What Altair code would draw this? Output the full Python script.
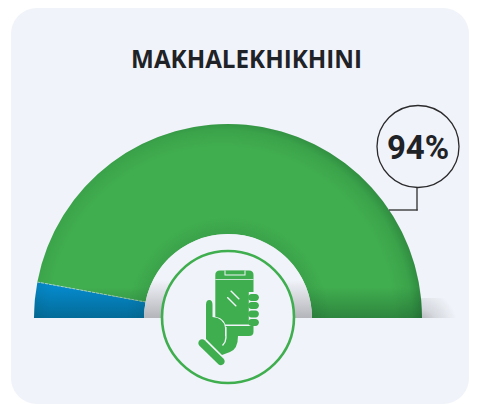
import math
import altair as alt
import pandas as pd

title_text = "MAKHALEKHIKHINI"
label_text = "94%"
categories = ["Blue", "Green"]
starts = [0, 6]
ends = [6, 100]
colors = ["#0589cb", "#40ae4f"]

CARD = "#f0f3f9"
GREEN = "#3fae4e"
CX, CY = 220, 310
R_OUT, R_IN = 194, 84
one = alt.Data(values=[{"a": 1}])
df = pd.DataFrame({"cat": categories, "start": starts, "end": ends})


def px(v):
    return alt.value(v)


def stop(offset, color):
    return alt.GradientStop(offset=offset, color=color)


def radial(stops, cx=0.5, cy=0.5, r=0.5):
    return alt.RadialGradient(gradient="radial", stops=stops, x1=cx, y1=cy, x2=cx, y2=cy, r1=0, r2=r)


def linear(stops, x2=0, y2=1):
    return alt.LinearGradient(gradient="linear", stops=stops, x1=0, y1=0, x2=x2, y2=y2)


def full_circle(r, r2, fill):
    return alt.Chart(one).mark_arc(radius=r, radius2=r2, theta=0, theta2=2 * math.pi, fill=fill).encode(x=px(CX), y=px(CY))


card = alt.Chart(one).mark_rect(fill=CARD, cornerRadius=26).encode(x=px(3), x2=px(461), y=px(0), y2=px(396))

side_shadow = alt.Chart(one).mark_rect(
    fill=radial([stop(0, "rgba(70,70,75,0.5)"), stop(0.5, "rgba(70,70,75,0.16)"), stop(1, "rgba(70,70,75,0)")], cx=0, cy=1, r=1)
).encode(x=px(CX + R_OUT - 4), x2=px(450), y=px(290), y2=px(310))

arcs = alt.Chart(df).mark_arc(radius=R_OUT, radius2=R_IN).encode(
    theta=alt.Theta("start:Q", scale=alt.Scale(domain=[0, 100], range=[-math.pi / 2, math.pi / 2])),
    theta2="end:Q",
    color=alt.Color("cat:N", scale=alt.Scale(domain=categories, range=colors), legend=None),
    x=px(CX),
    y=px(CY),
)

divider = alt.Chart(one).mark_rule(color="#a9d6c2", strokeWidth=1, strokeDash=[3, 1]).encode(
    x=px(29), x2=px(138), y=px(274), y2=px(294)
)

edge_shade = full_circle(R_OUT, 0, radial([
    stop(0, "rgba(0,40,20,0)"), stop(0.86, "rgba(0,40,20,0)"), stop(0.95, "rgba(0,40,20,0.08)"), stop(1, "rgba(0,40,20,0.24)")], cx=0.484, cy=0.505, r=0.515))
hole_shade = full_circle(130, 0, radial([
    stop(0, "rgba(0,30,20,0.08)"), stop(0.646, "rgba(0,30,20,0.08)"), stop(0.78, "rgba(0,30,20,0)"), stop(1, "rgba(0,30,20,0)")]))
base_shade = alt.Chart(one).mark_arc(radius=R_OUT, radius2=R_IN, theta=3 * math.pi / 2, theta2=5 * math.pi / 2, fill=linear([
    stop(0, "rgba(0,30,20,0)"), stop(0.84, "rgba(0,30,20,0)"), stop(1, "rgba(0,30,20,0.28)")])).encode(x=px(CX), y=px(CY))

cover = alt.Chart(one).mark_arc(radius=R_OUT + 2, theta=math.pi / 2, theta2=3 * math.pi / 2, fill=CARD).encode(x=px(CX), y=px(CY))

ring = alt.Chart(one).mark_arc(radius=R_IN, theta=3 * math.pi / 2, theta2=5 * math.pi / 2, fill=linear([
    stop(0, CARD), stop(0.55, CARD), stop(1, "#b4b5bb")])).encode(x=px(CX), y=px(CY))

icon_circle = alt.Chart(one).mark_point(
    shape="circle", size=4 * 66 * 66, filled=True, fill=CARD, stroke=GREEN, strokeWidth=2.6, opacity=1
).encode(x=px(CX), y=px(CY - 1))


def glyph(path, fill):
    # a custom symbol at size 4 is drawn at one pixel per path unit
    return alt.Chart(one).mark_point(shape=path, size=4, filled=True, fill=fill, opacity=1).encode(x=px(CX), y=px(CY))


def pill(x1, y1, x2, y2, w):
    dx, dy = x2 - x1, y2 - y1
    n = math.hypot(dx, dy)
    ox, oy = -dy / n * w / 2, dx / n * w / 2
    r = w / 2
    return (f"M{x1+ox:.1f},{y1+oy:.1f}L{x2+ox:.1f},{y2+oy:.1f}A{r},{r} 0 0 0 {x2-ox:.1f},{y2-oy:.1f}"
            f"L{x1-ox:.1f},{y1-oy:.1f}A{r},{r} 0 0 0 {x1+ox:.1f},{y1+oy:.1f}Z")


phone = "M-8,-47.5L21,-47.5Q25.5,-47.5 25.5,-43L25.5,13.5Q25.5,18 21,18L-8,18Q-12.7,18 -12.7,13.5L-12.7,-43Q-12.7,-47.5 -8,-47.5Z"
palm_fill = "M-22,-13Q-22,-18 -18.7,-18Q-15.5,-18 -15.5,-13L-15.5,-1Q-4,0 -3,10L-3,18L10,18Q10,31 2,34L-6,37L-22,21Z"

icon = [
    glyph(phone, GREEN),
    glyph("M-3.5,-47.5L17.5,-47.5L17.5,-42.5L-3.5,-42.5Z", CARD),
    glyph("M-2.5,-47.5L16.5,-47.5L16.5,-43.5L-2.5,-43.5Z", GREEN),
    glyph("M-12.7,-38.8L25.5,-38.8L25.5,-38L-12.7,-38Z", CARD),
    glyph("M-5,6.5L22,6.5L22,8L-5,8Z", CARD),
    glyph(pill(-0.5, -20.5, 8, -12, 1.5), CARD),
    glyph(pill(3, -27, 11, -19, 1.5), CARD),
    glyph("M20.8,-26L26,-26L26,8L20.8,8Z", CARD),
    glyph(pill(23.5, -20.5, 27.5, -20.5, 6.8), GREEN),
    glyph(pill(23.5, -12.5, 27.5, -12.5, 6.8), GREEN),
    glyph(pill(23.5, -4, 27.5, -4, 6.8), GREEN),
    glyph(pill(23.5, 4.5, 27.5, 4.5, 6.8), GREEN),
    glyph("M-15.5,-1.5Q-3,-1 -2,10L-2,18L-3.5,18L-3.5,10Q-4.5,0.5 -15.5,0Z", CARD),
    glyph(palm_fill, GREEN),
    glyph("M-2.8,9L-1.4,9L-1.4,20Q-1.4,24 -5,28L-6,27Q-2.8,24 -2.8,20Z", CARD),
    glyph("M-27,23L-5,43L-8,46L-30,26Z", CARD),
    glyph(pill(-26, 25, -7, 43.5, 7.5), GREEN),
]

title = alt.Chart(one).mark_text(
    text=title_text, font="Open Sans", fontWeight="bold", fontSize=24.2, color="#1f2226", align="center", baseline="alphabetic"
).encode(x=px(238.5), y=px(60))

leader_v = alt.Chart(one).mark_rule(color="#3a3a3c", strokeWidth=1.4).encode(x=px(409), y=px(178), y2=px(202.5))
leader_h = alt.Chart(one).mark_rule(color="#3a3a3c", strokeWidth=1.4).encode(x=px(381), x2=px(409.7), y=px(202))
bubble = alt.Chart(one).mark_point(
    shape="circle", size=4 * 41 * 41, filled=True, fill=CARD, stroke="#2a2a2c", strokeWidth=1.3, opacity=1
).encode(x=px(410), y=px(138.5))
label = alt.Chart(one).mark_text(
    text=label_text, font="Roboto", fontWeight="bold", fontSize=33, color="#1f2226", align="center", baseline="alphabetic"
).encode(x=px(410), y=px(151))

chart = alt.layer(
    card, side_shadow, arcs, divider, edge_shade, hole_shade, base_shade, cover, ring,
    icon_circle, *icon, title, leader_v, leader_h, bubble, label,
).properties(width=461, height=396, padding=0, background="white", autosize=alt.AutoSizeParams(type="none")).configure_view(stroke=None)

chart.save("out.html", embed_options={"renderer": "svg", "actions": False})
